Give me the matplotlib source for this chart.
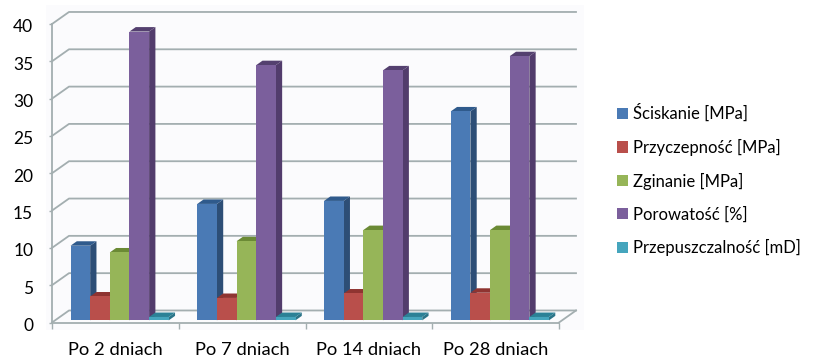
import matplotlib

matplotlib.use("Agg")
import matplotlib.pyplot as plt
from matplotlib.patches import Polygon, Rectangle
from matplotlib.transforms import ScaledTranslation

plt.rcParams["font.family"] = ["Lato", "DejaVu Sans"]

CATEGORIES = ["Po 2 dniach", "Po 7 dniach", "Po 14 dniach", "Po 28 dniach"]
SERIES = [
    "Ściskanie [MPa]",
    "Przyczepność [MPa]",
    "Zginanie [MPa]",
    "Porowatość [%]",
    "Przepuszczalność [mD]",
]
SCISKANIE = [10.0, 15.6, 16.0, 28.0]
PRZYCZEPNOSC = [3.2, 3.0, 3.6, 3.7]
ZGINANIE = [9.1, 10.6, 12.1, 12.1]
POROWATOSC = [38.7, 34.2, 33.5, 35.4]
PRZEPUSZCZALNOSC = [0.45, 0.45, 0.45, 0.45]
VALUES = [SCISKANIE, PRZYCZEPNOSC, ZGINANIE, POROWATOSC, PRZEPUSZCZALNOSC]
YTICKS = list(range(0, 45, 5))

# front, side, top shades per series
FRONT = ["#4a7ab5", "#b94f4b", "#96b558", "#7b5f9c", "#45a5bd"]
SIDE = ["#2d4e76", "#7c2f2d", "#617a35", "#523c6c", "#2b7488"]
TOP = ["#2f5a8c", "#8f3431", "#6b8a35", "#54406f", "#2b8196"]
GRID = "#a3aeb0"

# oblique projection: how far the full floor depth shifts a point, in data units
DEPTH_X = 17 / 126.75
DEPTH_Y = 12 / 7.45
BAR_W = 0.155
BAR_START = 0.122
BAR_D0, BAR_D1 = 0.18, 0.55


def shift(x, y, d):
    return x + d * DEPTH_X, y + d * DEPTH_Y


fig = plt.figure(figsize=(8.17, 3.58), dpi=100, facecolor="white")
fig.add_artist(
    Rectangle((46 / 817, 28 / 358), 538 / 817, 325 / 358, color="#fbfbfd", lw=0, zorder=-1)
)
ax = fig.add_axes([52 / 817, 35.5 / 358, 507 / 817, 298.5 / 358])
ax.patch.set_visible(False)
ax.set_xlim(0, 4)
ax.set_ylim(0, 40)

for side in ["top", "right"]:
    ax.spines[side].set_visible(False)
for side in ["left", "bottom"]:
    ax.spines[side].set_color(GRID)
    ax.spines[side].set_linewidth(1.3)

# floor and back wall lines
for v in YTICKS:
    bx, by = shift(0, v, 1)
    ex, ey = shift(4, v, 1)
    ax.plot([0, bx, ex], [v, by, ey], color=GRID, lw=1.3, clip_on=False, zorder=1)
ex, ey = shift(4, 0, 1)
ax.plot([4, ex], [0, ey], color=GRID, lw=1.3, clip_on=False, zorder=1)

for g in range(len(CATEGORIES)):
    for s, vals in enumerate(VALUES):
        v = vals[g]
        x0, y0 = shift(g + BAR_START + s * BAR_W, 0, BAR_D0)
        x1 = x0 + BAR_W
        ddx = (BAR_D1 - BAR_D0) * DEPTH_X
        ddy = (BAR_D1 - BAR_D0) * DEPTH_Y
        ax.add_patch(
            Polygon(
                [(x1, y0), (x1 + ddx, y0 + ddy), (x1 + ddx, y0 + v + ddy), (x1, y0 + v)],
                color=SIDE[s], lw=0, zorder=3, clip_on=False,
            )
        )
        ax.add_patch(
            Polygon(
                [(x0, y0 + v), (x1, y0 + v), (x1 + ddx, y0 + v + ddy), (x0 + ddx, y0 + v + ddy)],
                color=TOP[s], lw=0, zorder=3, clip_on=False,
            )
        )
        ax.bar(
            x0, v, width=BAR_W, bottom=y0, align="edge",
            color=FRONT[s], lw=0, zorder=3, label=SERIES[s] if g == 0 else None,
        )

ax.set_yticks(YTICKS)
ax.tick_params(axis="y", length=2.5, width=1, color=GRID, labelsize=12.5, pad=11)
# nudge the value labels down a little against their ticks
nudge = ScaledTranslation(0, -2.5 / 72, fig.dpi_scale_trans)
for lab in ax.get_yticklabels():
    lab.set_verticalalignment("center")
    lab.set_transform(lab.get_transform() + nudge)
ax.set_xticks(range(5))
ax.set_xticklabels([])
ax.set_xticks([i + 0.5 for i in range(4)], CATEGORIES, minor=True)
ax.tick_params(axis="x", which="major", length=4, width=1, color=GRID)
ax.tick_params(axis="x", which="minor", length=0, labelsize=13.2, pad=14)

ax.legend(
    loc="center left",
    bbox_to_anchor=(617 / 817, 178 / 358),
    bbox_transform=fig.transFigure,
    frameon=False,
    fontsize=12,
    handlelength=0.68,
    handleheight=0.68,
    handletextpad=0.26,
    labelspacing=1.0,
    borderpad=0,
    borderaxespad=0,
)

fig.savefig("out.png", dpi=100)
